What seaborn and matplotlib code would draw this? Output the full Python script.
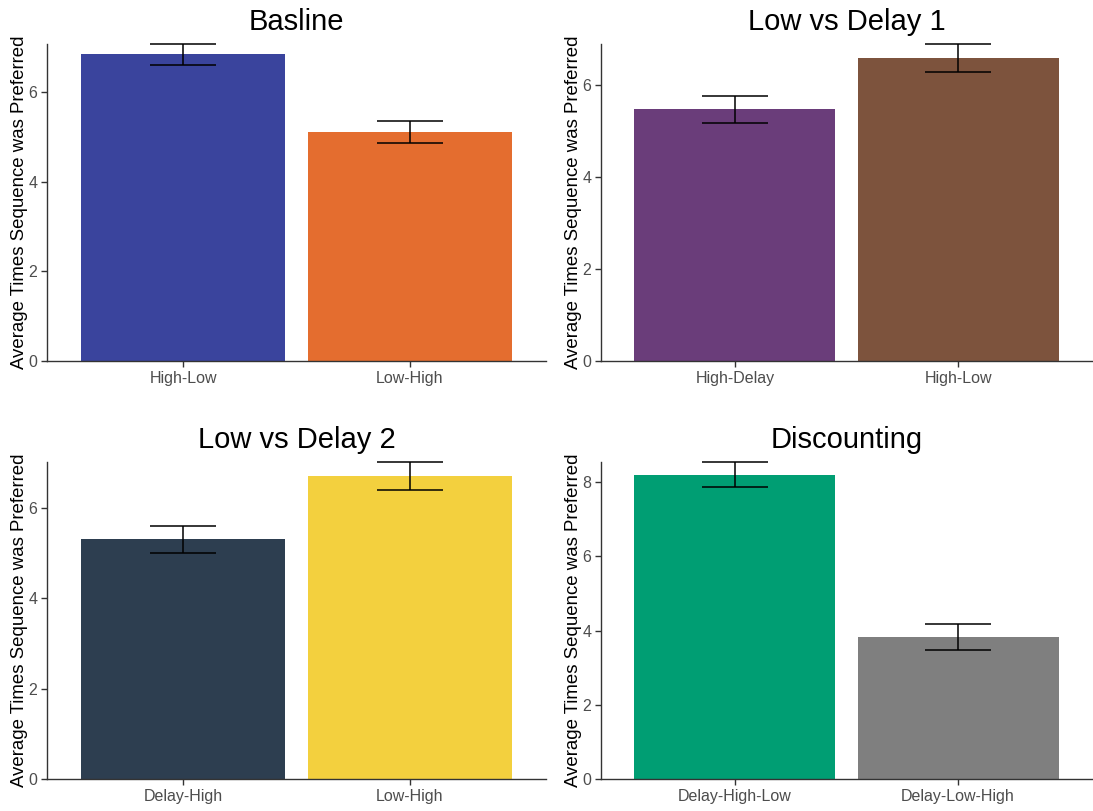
import matplotlib
matplotlib.use("Agg")
import matplotlib.pyplot as plt
import seaborn as sns
import numpy as np

sns.set_theme(style="white")
plt.rcParams["font.family"] = ["Liberation Sans", "DejaVu Sans"]

# Panel titles
titles = ["Basline", "Low vs Delay 1", "Low vs Delay 2", "Discounting"]

# Sequence categories per panel
cats_baseline = ["High-Low", "Low-High"]
cats_delay1 = ["High-Delay", "High-Low"]
cats_delay2 = ["Delay-High", "Low-High"]
cats_discount = ["Delay-High-Low", "Delay-Low-High"]

# Mean times each sequence was preferred
mean_baseline = [6.85, 5.11]
mean_delay1 = [5.46, 6.58]
mean_delay2 = [5.30, 6.70]
mean_discount = [8.20, 3.83]

# Standard errors
se_baseline = [0.23, 0.24]
se_delay1 = [0.30, 0.30]
se_delay2 = [0.30, 0.31]
se_discount = [0.34, 0.35]

# Bar colours
colors_baseline = ["#3A449D", "#E46D2F"]
colors_delay1 = ["#6A3D7A", "#7D533D"]
colors_delay2 = ["#2D3E50", "#F3D03E"]
colors_discount = ["#009E73", "#7F7F7F"]

panels = [
    (cats_baseline, mean_baseline, se_baseline, colors_baseline),
    (cats_delay1, mean_delay1, se_delay1, colors_delay1),
    (cats_delay2, mean_delay2, se_delay2, colors_delay2),
    (cats_discount, mean_discount, se_discount, colors_discount),
]

W, H = 1093, 811
fig = plt.figure(figsize=(W / 100, H / 100), dpi=100)

# axes boxes in pixels: left, right, top, bottom
boxes = [
    (47, 546, 44, 361),
    (601, 1092, 44, 361),
    (47, 546, 462, 779),
    (601, 1092, 462, 779),
]

axis_col = "#333333"
tick_col = "#4D4D4D"

for (cats, means, ses, cols), title, (l, r, t, b) in zip(panels, titles, boxes):
    ax = fig.add_axes([l / W, 1 - b / H, (r - l) / W, (b - t) / H])
    sns.barplot(x=cats, y=means, hue=cats, palette=cols, width=0.9,
                legend=False, errorbar=None, ax=ax, saturation=1,
                edgecolor="none")
    x = np.arange(len(cats))
    eb = ax.errorbar(x, means, yerr=ses, fmt="none", ecolor="black",
                     elinewidth=1.1, capsize=24, capthick=1.1)
    for artist in eb.lines[1] + eb.lines[2]:
        artist.set_clip_on(False)
    top = max(m + s for m, s in zip(means, ses))
    ax.set_ylim(0, top)
    ax.set_xlim(-0.6, len(cats) - 0.4)
    ax.set_yticks(np.arange(0, top, 2))
    ax.set_title(title, fontsize=21, pad=10, color="black")
    ax.set_ylabel("Average Times Sequence was Preferred", fontsize=13.4,
                  color="black", labelpad=0)
    ax.set_xlabel("")
    for side in ["top", "right"]:
        ax.spines[side].set_visible(False)
    for side in ["left", "bottom"]:
        ax.spines[side].set_color(axis_col)
        ax.spines[side].set_linewidth(1.0)
    ax.tick_params(axis="both", which="both", length=4, width=1.0,
                   color=axis_col, labelcolor=tick_col, labelsize=11.5,
                   pad=3, left=True, bottom=True)
    ax.set_facecolor("white")

fig.savefig("out.png", dpi=100, facecolor="white")
